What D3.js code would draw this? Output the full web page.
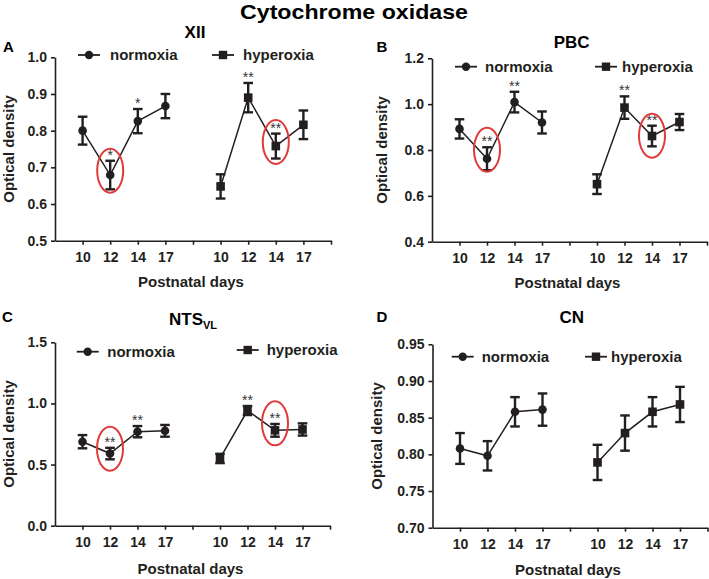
<!DOCTYPE html>
<html>
<head>
<meta charset="utf-8">
<script src="https://cdn.jsdelivr.net/npm/d3@7"></script>
<style>
body{margin:0;background:#fff;}
text{font-family:"Liberation Sans",Arial,Helvetica,sans-serif;}
</style>
</head>
<body>
<script>
// categories
var days = ["10","12","14","17"];
var slotLabels = ["","10","12","14","17","","10","12","14","17",""];
var seriesNames = ["normoxia","hyperoxia"];

// XII
var xiiNorm = [0.800,0.679,0.826,0.867];
var xiiNormErr = [0.038,0.039,0.033,0.033];
var xiiHyper = [0.648,0.890,0.758,0.816];
var xiiHyperErr = [0.033,0.040,0.034,0.039];
var xiiStars = [["","*","*",""],["","**","**",""]];
var xiiCircles = [[0,1,0.691],[1,2,0.769]];

// PBC
var pbcNorm = [0.892,0.762,1.009,0.920];
var pbcNormErr = [0.042,0.050,0.045,0.048];
var pbcHyper = [0.651,0.985,0.861,0.922];
var pbcHyperErr = [0.043,0.049,0.045,0.035];
var pbcStars = [["","**","**",""],["","**","**",""]];
var pbcCircles = [[0,1,0.801],[1,2,0.862]];

// NTS VL
var ntsNorm = [0.687,0.590,0.769,0.776];
var ntsNormErr = [0.054,0.047,0.046,0.048];
var ntsHyper = [0.550,0.942,0.780,0.787];
var ntsHyperErr = [0.038,0.037,0.052,0.050];
var ntsStars = [["","**","**",""],["","**","**",""]];
var ntsCircles = [[0,1,0.630],[1,2,0.837]];

// CN
var cnNorm = [0.808,0.798,0.858,0.861];
var cnNormErr = [0.021,0.020,0.020,0.022];
var cnHyper = [0.789,0.829,0.858,0.868];
var cnHyperErr = [0.024,0.024,0.020,0.024];
var cnStars = [["","","",""],["","","",""]];
var cnCircles = [];

// y ticks
var xiiTicks = [0.5,0.6,0.7,0.8,0.9,1.0];
var pbcTicks = [0.4,0.6,0.8,1.0,1.2];
var ntsTicks = [0.0,0.5,1.0,1.5];
var cnTicks = [0.70,0.75,0.80,0.85,0.90,0.95];

var ink = "#231f20";
var width = 709, height = 579;

var svg = d3.select("body").append("svg")
  .attr("width",width)
  .attr("height",height);

svg.append("text")
  .attr("x",354).attr("y",19)
  .attr("text-anchor","middle")
  .attr("textLength",228).attr("lengthAdjust","spacingAndGlyphs")
  .style("font-size","21px").style("font-weight","bold")
  .attr("fill","#000")
  .text("Cytochrome oxidase");

var panels = [
  {letter:"A", title:"XII", left:55, right:331, top:57.3, bottom:240.7, ticks:xiiTicks, fmt:".1f",
   letterX:3, letterY:51.7, titleX:195, titleY:38.3, legY:55, legN:[78,110], legH:[212,243],
   xTitleY:287, yTitleX:14, norm:xiiNorm, normErr:xiiNormErr, hyper:xiiHyper, hyperErr:xiiHyperErr,
   stars:xiiStars, circles:xiiCircles},
  {letter:"B", title:"PBC", left:432, right:707, top:58.3, bottom:241.7, ticks:pbcTicks, fmt:".1f",
   letterX:376.5, letterY:51.7, titleX:571.7, titleY:48.3, legY:66.7, legN:[455,485], legH:[595,622],
   xTitleY:288, yTitleX:387, norm:pbcNorm, normErr:pbcNormErr, hyper:pbcHyper, hyperErr:pbcHyperErr,
   stars:pbcStars, circles:pbcCircles},
  {letter:"C", title:"NTS", sub:"VL", left:55, right:330, top:342.3, bottom:525.7, ticks:ntsTicks, fmt:".1f",
   letterX:2, letterY:321.7, titleX:193, titleY:325, legY:351.7, legN:[76.7,107.3], legH:[236.7,266.7], legHY:350,
   xTitleY:573.5, yTitleX:14, norm:ntsNorm, normErr:ntsNormErr, hyper:ntsHyper, hyperErr:ntsHyperErr,
   stars:ntsStars, circles:ntsCircles},
  {letter:"D", title:"CN", left:432.5, right:707.5, top:344.3, bottom:527.7, ticks:cnTicks, fmt:".2f",
   letterX:376.5, letterY:321.7, titleX:571.7, titleY:323.3, legY:356.7, legN:[451.7,481.7], legH:[585,611],
   xTitleY:575, yTitleX:381.5, norm:cnNorm, normErr:cnNormErr, hyper:cnHyper, hyperErr:cnHyperErr,
   stars:cnStars, circles:cnCircles}
];

var drawPanel = function(p)
{
  var g = svg.append("g");

  var xScale = d3.scaleLinear()
    .domain([0,10])
    .range([p.left,p.right]);
  var yScale = d3.scaleLinear()
    .domain([p.ticks[0],p.ticks[p.ticks.length-1]])
    .range([p.bottom,p.top]);

  // axes
  var xAxis = d3.axisBottom(xScale)
    .tickValues(d3.range(1,11))
    .tickFormat(function(i){return slotLabels[i];})
    .tickSizeInner(4).tickSizeOuter(0).tickPadding(7);
  var yAxis = d3.axisLeft(yScale)
    .tickValues(p.ticks)
    .tickFormat(d3.format(p.fmt))
    .tickSizeInner(4).tickSizeOuter(0).tickPadding(4);

  var gx = g.append("g").attr("transform","translate(0,"+p.bottom+")").call(xAxis);
  var gy = g.append("g").attr("transform","translate("+p.left+",0)").call(yAxis);
  [gx,gy].forEach(function(a){
    a.select(".domain").attr("stroke",ink).attr("stroke-width",1.6);
    a.selectAll(".tick line").attr("stroke",ink).attr("stroke-width",1.6);
    a.selectAll(".tick text").attr("fill",ink)
      .style("font-size","14px").style("font-weight","bold");
  });

  // titles
  g.append("text").attr("x",p.letterX).attr("y",p.letterY)
    .style("font-size","15px").style("font-weight","bold").attr("fill","#000")
    .text(p.letter);
  var t = g.append("text").attr("x",p.titleX).attr("y",p.titleY)
    .attr("text-anchor","middle")
    .style("font-size","17px").style("font-weight","bold").attr("fill","#000")
    .text(p.title);
  if (p.sub)
  {
    t.append("tspan").attr("dy",4).style("font-size","11px").text(p.sub);
  }
  g.append("text").attr("x",(p.left+p.right)/2 - 2).attr("y",p.xTitleY)
    .attr("text-anchor","middle")
    .style("font-size","15px").style("font-weight","bold").attr("fill",ink)
    .text("Postnatal days");
  g.append("text")
    .attr("transform","translate("+p.yTitleX+","+((p.top+p.bottom)/2)+") rotate(-90)")
    .attr("text-anchor","middle")
    .style("font-size","15px").style("font-weight","bold").attr("fill",ink)
    .text("Optical density");

  // series
  var series = [
    {name:seriesNames[0], vals:p.norm, errs:p.normErr, offset:1, shape:"circle"},
    {name:seriesNames[1], vals:p.hyper, errs:p.hyperErr, offset:6, shape:"square"}
  ];

  series.forEach(function(s,si){
    var pts = s.vals.map(function(v,i){
      return {x:xScale(s.offset+i), y:yScale(v), top:yScale(v+s.errs[i]), bot:yScale(v-s.errs[i]), star:p.stars[si][i]};
    });

    var line = d3.line().x(function(d){return d.x;}).y(function(d){return d.y;});
    g.append("path").datum(pts)
      .attr("d",line).attr("fill","none")
      .attr("stroke",ink).attr("stroke-width",1.5);

    var eb = g.append("g").selectAll("g").data(pts).enter().append("g");
    eb.append("line")
      .attr("x1",function(d){return d.x;}).attr("x2",function(d){return d.x;})
      .attr("y1",function(d){return d.top;}).attr("y2",function(d){return d.bot;})
      .attr("stroke",ink).attr("stroke-width",2.4);
    eb.append("line")
      .attr("x1",function(d){return d.x-4.8;}).attr("x2",function(d){return d.x+4.8;})
      .attr("y1",function(d){return d.top;}).attr("y2",function(d){return d.top;})
      .attr("stroke",ink).attr("stroke-width",2.4);
    eb.append("line")
      .attr("x1",function(d){return d.x-4.8;}).attr("x2",function(d){return d.x+4.8;})
      .attr("y1",function(d){return d.bot;}).attr("y2",function(d){return d.bot;})
      .attr("stroke",ink).attr("stroke-width",2.4);

    if (s.shape==="circle")
    {
      eb.append("circle")
        .attr("cx",function(d){return d.x;}).attr("cy",function(d){return d.y;})
        .attr("r",4.3).attr("fill",ink);
    }
    else
    {
      eb.append("rect")
        .attr("x",function(d){return d.x-4.3;}).attr("y",function(d){return d.y-4.3;})
        .attr("width",8.6).attr("height",8.6).attr("fill",ink);
    }

    eb.append("text")
      .attr("x",function(d){return d.x;}).attr("y",function(d){return d.top-1;})
      .attr("text-anchor","middle")
      .style("font-size","14px").attr("fill","#333")
      .text(function(d){return d.star;});

    // legend
    var lx = si===0 ? p.legN : p.legH;
    var ly = (si===1 && p.legHY) ? p.legHY : p.legY;
    g.append("line").attr("x1",lx[0]).attr("x2",lx[0]+22).attr("y1",ly).attr("y2",ly)
      .attr("stroke",ink).attr("stroke-width",1.8);
    if (s.shape==="circle")
    {
      g.append("circle").attr("cx",lx[0]+11).attr("cy",ly).attr("r",4.2).attr("fill",ink);
    }
    else
    {
      g.append("rect").attr("x",lx[0]+6.8).attr("y",ly-4.2).attr("width",8.4).attr("height",8.4).attr("fill",ink);
    }
    g.append("text").attr("x",lx[1]).attr("y",ly+5)
      .style("font-size","15px").style("font-weight","bold").attr("fill",ink)
      .text(s.name);
  });

  // red highlight ellipses
  g.append("g").selectAll("ellipse")
    .data(p.circles)
    .enter()
    .append("ellipse")
    .attr("cx",function(d){return xScale((d[0]===0?1:6)+d[1]);})
    .attr("cy",function(d){return yScale(d[2]);})
    .attr("rx",13).attr("ry",22)
    .attr("fill","none").attr("stroke","#e23a3a").attr("stroke-width",2);
};

panels.forEach(drawPanel);
</script>
</body>
</html>
